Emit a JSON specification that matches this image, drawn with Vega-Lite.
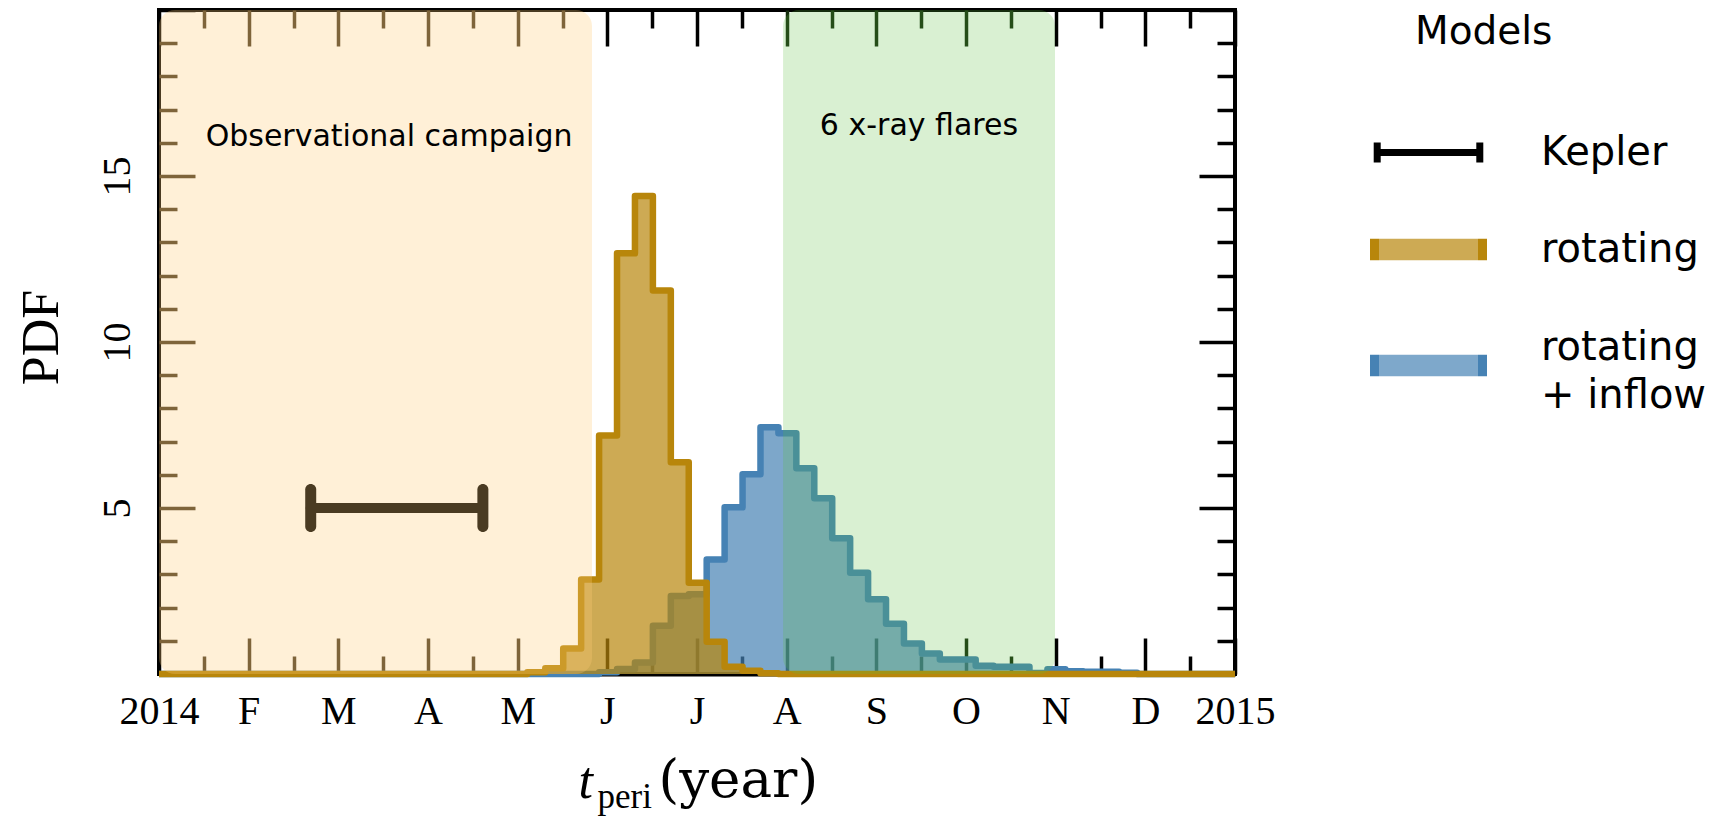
{
  "$schema": "https://vega.github.io/schema/vega-lite/v6.json",
  "width": 1076,
  "height": 664,
  "autosize": {"type": "none"},
  "padding": {"left": 159, "top": 10, "right": 481, "bottom": 142},
  "background": "white",
  "config": {
    "font": "DejaVu Sans",
    "view": {"stroke": "black", "strokeWidth": 4},
    "style": {"guide-label": {"lineHeight": 48}},
    "axis": {
      "zindex": 1,
      "grid": false,
      "domain": false,
      "tickWidth": 3.5,
      "labelFont": "Liberation Serif",
      "labelFontSize": 40,
      "labelColor": "black",
      "labelOverlap": false,
      "labelFlush": false,
      "labelBound": false,
      "titleFont": "Liberation Serif",
      "titleFontSize": 52,
      "titleFontWeight": "normal",
      "titleColor": "black"
    }
  },
  "datasets": {
    "hist": [
      {"model": "rotating + inflow", "t": 2014.0, "pdf": 0},
      {"model": "rotating + inflow", "t": 2014.409, "pdf": 0.05},
      {"model": "rotating + inflow", "t": 2014.42567, "pdf": 0.15},
      {"model": "rotating + inflow", "t": 2014.44233, "pdf": 0.35},
      {"model": "rotating + inflow", "t": 2014.459, "pdf": 1.45},
      {"model": "rotating + inflow", "t": 2014.47567, "pdf": 2.35},
      {"model": "rotating + inflow", "t": 2014.49233, "pdf": 2.4},
      {"model": "rotating + inflow", "t": 2014.509, "pdf": 3.45},
      {"model": "rotating + inflow", "t": 2014.52567, "pdf": 5.02},
      {"model": "rotating + inflow", "t": 2014.54233, "pdf": 6.02},
      {"model": "rotating + inflow", "t": 2014.559, "pdf": 7.43},
      {"model": "rotating + inflow", "t": 2014.57567, "pdf": 7.25},
      {"model": "rotating + inflow", "t": 2014.59233, "pdf": 6.2},
      {"model": "rotating + inflow", "t": 2014.609, "pdf": 5.29},
      {"model": "rotating + inflow", "t": 2014.62567, "pdf": 4.09},
      {"model": "rotating + inflow", "t": 2014.64233, "pdf": 3.05},
      {"model": "rotating + inflow", "t": 2014.659, "pdf": 2.25},
      {"model": "rotating + inflow", "t": 2014.67567, "pdf": 1.51},
      {"model": "rotating + inflow", "t": 2014.69233, "pdf": 0.92},
      {"model": "rotating + inflow", "t": 2014.709, "pdf": 0.62},
      {"model": "rotating + inflow", "t": 2014.72567, "pdf": 0.44},
      {"model": "rotating + inflow", "t": 2014.74233, "pdf": 0.44},
      {"model": "rotating + inflow", "t": 2014.759, "pdf": 0.25},
      {"model": "rotating + inflow", "t": 2014.77567, "pdf": 0.22},
      {"model": "rotating + inflow", "t": 2014.79233, "pdf": 0.22},
      {"model": "rotating + inflow", "t": 2014.809, "pdf": 0.03},
      {"model": "rotating + inflow", "t": 2014.82567, "pdf": 0.14},
      {"model": "rotating + inflow", "t": 2014.84233, "pdf": 0.08},
      {"model": "rotating + inflow", "t": 2014.859, "pdf": 0.07},
      {"model": "rotating + inflow", "t": 2014.87567, "pdf": 0.07},
      {"model": "rotating + inflow", "t": 2014.89233, "pdf": 0.04},
      {"model": "rotating + inflow", "t": 2014.909, "pdf": 0},
      {"model": "rotating + inflow", "t": 2015.0, "pdf": 0},
      {"model": "rotating", "t": 2014.0, "pdf": 0},
      {"model": "rotating", "t": 2014.34233, "pdf": 0.05},
      {"model": "rotating", "t": 2014.359, "pdf": 0.17},
      {"model": "rotating", "t": 2014.37567, "pdf": 0.77},
      {"model": "rotating", "t": 2014.39233, "pdf": 2.85},
      {"model": "rotating", "t": 2014.409, "pdf": 7.18},
      {"model": "rotating", "t": 2014.42567, "pdf": 12.67},
      {"model": "rotating", "t": 2014.44233, "pdf": 14.4},
      {"model": "rotating", "t": 2014.459, "pdf": 11.55},
      {"model": "rotating", "t": 2014.47567, "pdf": 6.38},
      {"model": "rotating", "t": 2014.49233, "pdf": 2.75},
      {"model": "rotating", "t": 2014.509, "pdf": 0.97},
      {"model": "rotating", "t": 2014.52567, "pdf": 0.22},
      {"model": "rotating", "t": 2014.54233, "pdf": 0.1},
      {"model": "rotating", "t": 2014.559, "pdf": 0.02},
      {"model": "rotating", "t": 2014.57567, "pdf": 0},
      {"model": "rotating", "t": 2015.0, "pdf": 0}
    ],
    "kepler": [
      {"model": "Kepler", "lo": 2014.141, "hi": 2014.301, "pdf": 5}
    ],
    "campaign": [
      {"label": "Observational campaign", "start": 2014.0, "end": 2014.4024}
    ],
    "flares": [
      {"label": "6 x-ray flares", "start": 2014.58, "end": 2014.8327}
    ],
    "notes": [
      {"label": "Observational campaign", "t": 2014.2138, "pdf": 15.9},
      {"label": "6 x-ray flares", "t": 2014.7063, "pdf": 16.23}
    ]
  },
  "resolve": {"axis": {"x": "independent", "y": "independent"}},
  "layer": [
    {
      "data": {"name": "hist"},
      "transform": [{"filter": "datum.model == 'rotating + inflow'"}],
      "mark": {"type": "area", "interpolate": "step-after", "color": "steelblue", "opacity": 0.7},
      "encoding": {
        "x": {
          "field": "t", "type": "quantitative",
          "scale": {"domain": [2014, 2015], "nice": false, "zero": false},
          "axis": {
            "orient": "bottom",
            "values": [2014, 2014.0833333, 2014.1666667, 2014.25, 2014.3333333, 2014.4166667, 2014.5, 2014.5833333, 2014.6666667, 2014.75, 2014.8333333, 2014.9166667, 2015],
            "labelExpr": "['2014','F','M','A','M','J','J','A','S','O','N','D','2015'][round((datum.value-2014)*12)]",
            "tickSize": -36,
            "tickColor": {"condition": [{"test": "datum.value > 2014.01 && datum.value < 2014.41", "value": "#4a3b22"}, {"test": "datum.value > 2014.579 && datum.value < 2014.832", "value": "#152c0e"}], "value": "black"},
            "domain": true,
            "domainColor": "black",
            "domainWidth": 4,
            "labelBaseline": "alphabetic",
            "labelPadding": 85,
            "title": "t",
            "titleFontStyle": "italic",
            "titleAlign": "left",
            "titleBaseline": "alphabetic",
            "titleX": 419,
            "titleY": 123
          }
        },
        "y": {
          "field": "pdf", "type": "quantitative", "stack": null,
          "scale": {"domain": [0, 20], "nice": false},
          "axis": {
            "orient": "left",
            "values": [0, 5, 10, 15, 20],
            "labelExpr": "datum.value == 0 || datum.value == 20 ? '' : datum.label",
            "tickSize": -36,
            "tickColor": {"condition": {"test": "datum.value > 0.5 && datum.value < 19.5", "value": "#4a3b22"}, "value": "black"},
            "labelAngle": -90,
            "labelAlign": "center",
            "labelBaseline": "alphabetic",
            "labelPadding": 66,
            "title": "PDF",
            "titleAngle": -90,
            "titleAlign": "center",
            "titleBaseline": "alphabetic",
            "titleX": -102,
            "titleY": 327
          }
        }
      }
    },
    {
      "data": {"name": "hist"},
      "transform": [{"filter": "datum.model == 'rotating + inflow'"}],
      "mark": {"type": "line", "interpolate": "step-after", "color": "steelblue", "strokeWidth": 6.5, "strokeJoin": "round"},
      "encoding": {
        "x": {
          "field": "t", "type": "quantitative",
          "scale": {"domain": [2014, 2015], "nice": false, "zero": false},
          "axis": {
            "orient": "bottom",
            "values": [2014.0416667, 2014.125, 2014.2083333, 2014.2916667, 2014.375, 2014.4583333, 2014.5416667, 2014.625, 2014.7083333, 2014.7916667, 2014.875, 2014.9583333],
            "labels": false,
            "tickSize": -18,
            "tickColor": {"condition": [{"test": "datum.value > 2014.01 && datum.value < 2014.41", "value": "#4a3b22"}, {"test": "datum.value > 2014.579 && datum.value < 2014.832", "value": "#152c0e"}], "value": "black"},
            "title": "peri",
            "titleFontSize": 35,
            "titleAlign": "left",
            "titleBaseline": "alphabetic",
            "titleX": 438,
            "titleY": 133
          }
        },
        "y": {
          "field": "pdf", "type": "quantitative",
          "scale": {"domain": [0, 20], "nice": false},
          "axis": {
            "orient": "left",
            "values": [1, 2, 3, 4, 6, 7, 8, 9, 11, 12, 13, 14, 16, 17, 18, 19],
            "labels": false,
            "tickSize": -18,
            "tickColor": "#4a3b22",
            "title": null
          }
        }
      }
    },
    {
      "data": {"name": "hist"},
      "transform": [{"filter": "datum.model == 'rotating'"}],
      "mark": {"type": "area", "interpolate": "step-after", "color": "darkgoldenrod", "opacity": 0.7},
      "encoding": {
        "x": {
          "field": "t", "type": "quantitative",
          "scale": {"domain": [2014, 2015], "nice": false, "zero": false},
          "axis": {
            "orient": "top",
            "values": [2014, 2014.0833333, 2014.1666667, 2014.25, 2014.3333333, 2014.4166667, 2014.5, 2014.5833333, 2014.6666667, 2014.75, 2014.8333333, 2014.9166667, 2015],
            "labels": false,
            "tickSize": -36,
            "tickColor": {"condition": [{"test": "datum.value > 2014.01 && datum.value < 2014.41", "value": "#4a3b22"}, {"test": "datum.value > 2014.579 && datum.value < 2014.832", "value": "#152c0e"}], "value": "black"},
            "title": "(year)",
            "titleFont": "DejaVu Serif",
            "titleFontSize": 53,
            "titleAlign": "left",
            "titleBaseline": "alphabetic",
            "titleX": 499,
            "titleY": 786
          }
        },
        "y": {
          "field": "pdf", "type": "quantitative", "stack": null,
          "scale": {"domain": [0, 20], "nice": false},
          "axis": {
            "orient": "right",
            "values": [0, 5, 10, 15, 20],
            "labels": false,
            "tickSize": -36,
            "tickColor": "black",
            "title": null
          }
        }
      }
    },
    {
      "data": {"name": "hist"},
      "transform": [{"filter": "datum.model == 'rotating'"}],
      "mark": {"type": "line", "interpolate": "step-after", "color": "darkgoldenrod", "strokeWidth": 6.5, "strokeJoin": "round"},
      "encoding": {
        "x": {
          "field": "t", "type": "quantitative",
          "scale": {"domain": [2014, 2015], "nice": false, "zero": false},
          "axis": {
            "orient": "top",
            "values": [2014.0416667, 2014.125, 2014.2083333, 2014.2916667, 2014.375, 2014.4583333, 2014.5416667, 2014.625, 2014.7083333, 2014.7916667, 2014.875, 2014.9583333],
            "labels": false,
            "tickSize": -18,
            "tickColor": {"condition": [{"test": "datum.value > 2014.01 && datum.value < 2014.41", "value": "#4a3b22"}, {"test": "datum.value > 2014.579 && datum.value < 2014.832", "value": "#152c0e"}], "value": "black"},
            "title": null
          }
        },
        "y": {
          "field": "pdf", "type": "quantitative",
          "scale": {"domain": [0, 20], "nice": false},
          "axis": {
            "orient": "right",
            "values": [1, 2, 3, 4, 6, 7, 8, 9, 11, 12, 13, 14, 16, 17, 18, 19],
            "labels": false,
            "tickSize": -18,
            "tickColor": "black",
            "title": null
          }
        }
      }
    },
    {
      "data": {"name": "kepler"},
      "mark": {"type": "rule", "color": "black", "strokeWidth": 10, "strokeCap": "round"},
      "encoding": {
        "x": {"field": "lo", "type": "quantitative", "axis": null},
        "x2": {"field": "hi"},
        "y": {"field": "pdf", "type": "quantitative", "axis": null}
      }
    },
    {
      "data": {"name": "kepler"},
      "mark": {"type": "tick", "orient": "vertical", "color": "black", "size": 48, "thickness": 11, "cornerRadius": 5.5, "opacity": 1},
      "encoding": {
        "x": {"field": "lo", "type": "quantitative", "axis": null},
        "y": {"field": "pdf", "type": "quantitative", "axis": null}
      }
    },
    {
      "data": {"name": "kepler"},
      "mark": {"type": "tick", "orient": "vertical", "color": "black", "size": 48, "thickness": 11, "cornerRadius": 5.5, "opacity": 1},
      "encoding": {
        "x": {"field": "hi", "type": "quantitative", "axis": null},
        "y": {"field": "pdf", "type": "quantitative", "axis": null}
      }
    },
    {
      "data": {"name": "campaign"},
      "mark": {"type": "rect", "color": "#ffcb75", "opacity": 0.29, "cornerRadius": 16},
      "encoding": {
        "x": {"field": "start", "type": "quantitative", "axis": null},
        "x2": {"field": "end"},
        "y": {"datum": 0, "type": "quantitative", "axis": null},
        "y2": {"datum": 20}
      }
    },
    {
      "data": {"name": "flares"},
      "mark": {"type": "rect", "color": "#5abe3c", "opacity": 0.23, "cornerRadius": 16},
      "encoding": {
        "x": {"field": "start", "type": "quantitative", "axis": null},
        "x2": {"field": "end"},
        "y": {"datum": 0, "type": "quantitative", "axis": null},
        "y2": {"datum": 20}
      }
    },
    {
      "data": {"name": "notes"},
      "mark": {"type": "text", "font": "DejaVu Sans", "fontSize": 30, "color": "black", "align": "center", "baseline": "alphabetic"},
      "encoding": {
        "x": {"field": "t", "type": "quantitative", "axis": null},
        "y": {"field": "pdf", "type": "quantitative", "axis": null},
        "text": {"field": "label"}
      }
    },
    {
      "data": {"name": "kepler"},
      "transform": [{"filter": "datum.pdf < 0"}],
      "mark": {
        "type": "point",
        "filled": true,
        "opacity": 1,
        "strokeWidth": 7,
        "strokeCap": "round",
        "fill": {"expr": "datum.value == 'Kepler' ? 'transparent' : {gradient: 'linear', x1: 0, y1: 0, x2: 1, y2: 0, stops: [{offset: 0, color: datum.value == 'rotating' ? '#b8860b' : '#4682b4'}, {offset: 0.08, color: datum.value == 'rotating' ? '#b8860b' : '#4682b4'}, {offset: 0.08, color: datum.value == 'rotating' ? '#cdaa54' : '#7ea8cb'}, {offset: 0.92, color: datum.value == 'rotating' ? '#cdaa54' : '#7ea8cb'}, {offset: 0.92, color: datum.value == 'rotating' ? '#b8860b' : '#4682b4'}, {offset: 1, color: datum.value == 'rotating' ? '#b8860b' : '#4682b4'}]}"},
        "stroke": {"expr": "datum.value == 'Kepler' ? 'black' : 'transparent'"}
      },
      "encoding": {
        "x": {"field": "lo", "type": "quantitative", "axis": null},
        "y": {"field": "pdf", "type": "quantitative", "axis": null},
        "shape": {
          "field": "model", "type": "nominal",
          "scale": {
            "domain": ["Kepler", "rotating", "rotating + inflow"],
            "range": ["M-1.14,0H1.14M-1.14,-0.22V0.22M1.14,-0.22V0.22", "M-1.3,-0.24H1.3V0.24H-1.3Z", "M-1.3,0.16H1.3V0.64H-1.3Z"]
          },
          "legend": {
            "title": "Models",
            "orient": "none",
            "legendX": 1256,
            "legendY": 3,
            "padding": 0,
            "titleFont": "DejaVu Sans",
            "titleFontSize": 39,
            "titleFontWeight": "normal",
            "titleColor": "black",
            "titlePadding": 52,
            "labelFont": "DejaVu Sans",
            "labelFontSize": 40,
            "labelColor": "black",
            "labelLimit": 500,
            "labelOffset": 64,
            "symbolSize": 8100,
            "symbolStrokeWidth": 7,
            "symbolOffset": -35,
            "symbolOpacity": 1,
            "rowPadding": 24,
            "labelExpr": "datum.label == 'rotating + inflow' ? ['rotating', '+ inflow'] : datum.label"
          }
        }
      }
    }
  ]
}
